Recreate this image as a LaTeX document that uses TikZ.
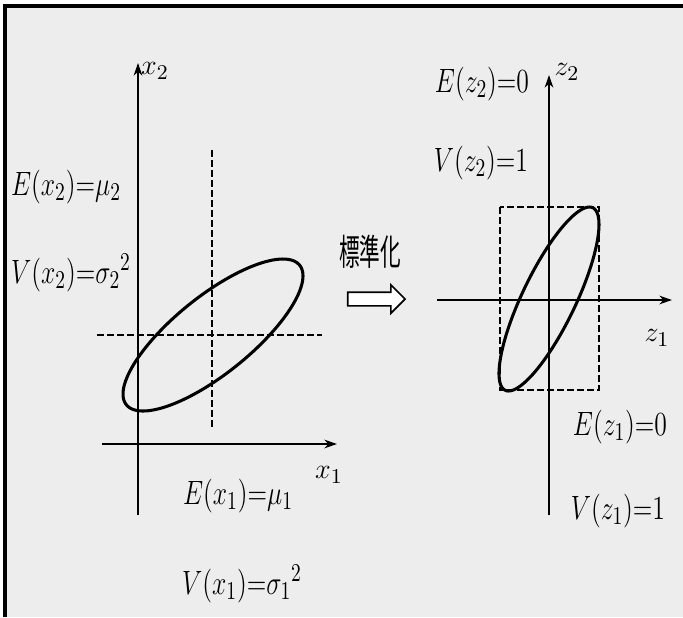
\documentclass[tikz,border=0pt]{standalone}
\usepackage{fontspec}
\usepackage{graphicx}
\usepackage{xcolor}
\usetikzlibrary{arrows.meta,shapes.arrows}

\newfontfamily\jpfont{Noto Sans CJK JP}
\newcommand{\narrow}[1]{\scalebox{0.76}[1]{#1}}

\begin{document}
\begin{tikzpicture}[
  x=0.015cm, y=-0.015cm,
  paper/.style={fill=black!7},
  frame/.style={line width=1.3pt},
  axis/.style={line width=1.1pt, -{Stealth[length=1.9mm, width=1.3mm]}},
  guide/.style={line width=0.8pt, dash pattern=on 0.1cm off 0.05cm},
  curve/.style={line width=1.3pt},
  lbl/.style={inner sep=0pt, font=\fontsize{15}{17}\selectfont},
  axlbl/.style={inner sep=0pt, font=\fontsize{13}{15}\selectfont},
  hollow/.style={draw, line width=0.7pt, fill=white, single arrow, single arrow head extend=0.11cm,
    minimum height=0.86cm, inner sep=0.09cm}
]
\useasboundingbox (0,0) rectangle (683,617);
\fill[paper] (5,6) rectangle (683,617);
\draw[frame] (5,617) -- (5,6) -- (683,6);

% original variables
\coordinate (x1a) at (102,444);
\coordinate (x1b) at (337,444);
\coordinate (x2a) at (138,515);
\coordinate (x2b) at (138,63);
\coordinate (mu1a) at (212,150);
\coordinate (mu1b) at (212,430);
\coordinate (mu2a) at (97,335);
\coordinate (mu2b) at (322,335);
\coordinate (lc) at (213,335);

\draw[guide] (mu1a) -- (mu1b);
\draw[guide] (mu2a) -- (mu2b);
\draw[axis] (x1a) -- (x1b);
\draw[axis] (x2a) -- (x2b);
\draw[curve, shift={(lc)}] plot[domain=0:360, samples=120, smooth cycle]
  ({90*cos(\x)}, {-76*cos(\x-39)});

\node[axlbl] (x2lbl) at (155,71) {$x_2$};
\node[axlbl] (x1lbl) at (329,475) {$x_1$};
\node[lbl] (ex2) at (66,187) {\narrow{$E(x_2){=}\mu_2$}};
\node[lbl] (vx2) at (71,273) {\narrow{$V(x_2){=}{\sigma_2}^2$}};
\node[lbl] (ex1) at (238,496) {\narrow{$E(x_1){=}\mu_1$}};
\node[lbl] (vx1) at (242,584) {\narrow{$V(x_1){=}{\sigma_1}^2$}};

% standardisation
\node[inner sep=0pt, font=\jpfont\fontsize{11}{13}\selectfont] (std) at (370,252) {\scalebox{0.8}[1.4]{標準化}};
\node[hollow] (go) at (373,299) {};

% standardised variables
\coordinate (z1a) at (437,300);
\coordinate (z1b) at (672,300);
\coordinate (z2a) at (549,515);
\coordinate (z2b) at (549,75);
\coordinate (rc) at (549,299);

\draw[guide] (500,207) rectangle (599,390);
\draw[axis] (z1a) -- (z1b);
\draw[axis] (z2a) -- (z2b);
\draw[curve, shift={(rc)}] plot[domain=0:360, samples=120, smooth cycle]
  ({50*cos(\x)}, {-92*cos(\x-36)});

\node[axlbl] (z2lbl) at (567,72) {$z_2$};
\node[axlbl] (z1lbl) at (657,338) {$z_1$};
\node[lbl] (ez2) at (482,84) {\narrow{$E(z_2){=}0$}};
\node[lbl] (vz2) at (481,163) {\narrow{$V(z_2){=}1$}};
\node[lbl] (ez1) at (620,427) {\narrow{$E(z_1){=}0$}};
\node[lbl] (vz1) at (618,511) {\narrow{$V(z_1){=}1$}};
\end{tikzpicture}
\end{document}
